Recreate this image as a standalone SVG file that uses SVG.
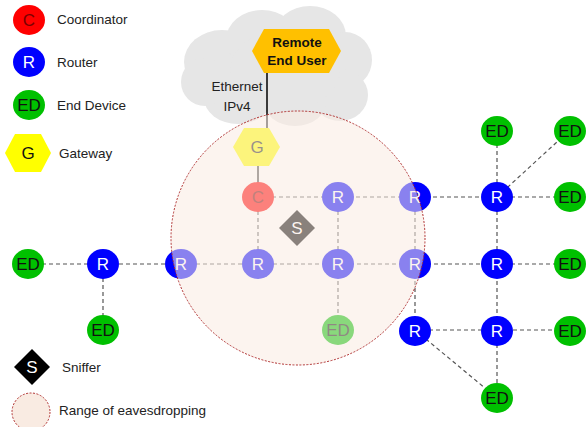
<svg xmlns="http://www.w3.org/2000/svg" width="587" height="427" viewBox="0 0 587 427">
<style>
text{font-family:"Liberation Sans",Arial,sans-serif}
.lbl{font-size:13.5px;fill:#222}
.nt{font-size:17px;text-anchor:middle;dominant-baseline:central}
.c{fill:#ff0000}.r{fill:#0000ff}.ed{fill:#00c000}
.ct{fill:#7a0000}.rt{fill:#ffffff}.edt{fill:#111111}
.dash{stroke:#555;stroke-width:1.2;stroke-dasharray:4 3;fill:none}
.range{fill:#f9ebe2;stroke:#b03030;stroke-width:1;stroke-dasharray:2 1.5}
</style>
<g id="cloud" fill="#e6e6e6">
<ellipse cx="222" cy="62" rx="38" ry="32"/>
<ellipse cx="262" cy="40" rx="36" ry="30"/>
<ellipse cx="310" cy="36" rx="36" ry="30"/>
<ellipse cx="345" cy="60" rx="27" ry="28"/>
<ellipse cx="340" cy="95" rx="28" ry="26"/>
<ellipse cx="295" cy="100" rx="32" ry="26"/>
<ellipse cx="238" cy="98" rx="34" ry="26"/>
<ellipse cx="205" cy="82" rx="24" ry="24"/>
<ellipse cx="285" cy="70" rx="55" ry="40"/>
</g>
<g id="connectors">
<line x1="267" y1="73" x2="267" y2="130" stroke="#000" stroke-width="1.5"/>
<line x1="258" y1="166" x2="258" y2="184" stroke="#555" stroke-width="2"/>
<path class="dash" d="M258 197H497M258 197V264M338 197V330M415 197V330M497 197V398M28 264H570M103 264V330M415 330H570M415 330L497 398M497 130V197M497 197L570 130M497 197H570"/>
</g>
<g id="remote"><polygon points="252,51 264,29 329,29 341,51 329,73 264,73" fill="#ffc000"/>
<text x="297" y="47" text-anchor="middle" font-size="13.5" font-weight="bold" fill="#111">Remote</text>
<text x="297" y="65" text-anchor="middle" font-size="13.5" font-weight="bold" fill="#111">End User</text></g>
<text x="237" y="91" text-anchor="middle" class="lbl" fill="#333">Ethernet</text>
<text x="237" y="111" text-anchor="middle" class="lbl" fill="#333">IPv4</text>
<g id="G"><polygon points="233,147 244,128 269,128 280,147 269,166 244,166" fill="#ffff00"/><text class="nt" x="257" y="147" fill="#222">G</text></g>
<g id="C"><ellipse class="c" cx="258" cy="197" rx="16" ry="15"/><text class="nt ct" x="258" y="197">C</text></g>
<g id="R1"><ellipse class="r" cx="338" cy="197" rx="16" ry="15"/><text class="nt rt" x="338" y="197">R</text></g>
<g id="R2"><ellipse class="r" cx="415" cy="197" rx="16" ry="15"/><text class="nt rt" x="415" y="197">R</text></g>
<g id="R3"><ellipse class="r" cx="497" cy="197" rx="16" ry="15"/><text class="nt rt" x="497" y="197">R</text></g>
<g id="R4"><ellipse class="r" cx="103" cy="264" rx="16" ry="15"/><text class="nt rt" x="103" y="264">R</text></g>
<g id="R5"><ellipse class="r" cx="181" cy="264" rx="16" ry="15"/><text class="nt rt" x="181" y="264">R</text></g>
<g id="R6"><ellipse class="r" cx="258" cy="264" rx="16" ry="15"/><text class="nt rt" x="258" y="264">R</text></g>
<g id="R7"><ellipse class="r" cx="338" cy="264" rx="16" ry="15"/><text class="nt rt" x="338" y="264">R</text></g>
<g id="R8"><ellipse class="r" cx="415" cy="264" rx="16" ry="15"/><text class="nt rt" x="415" y="264">R</text></g>
<g id="R9"><ellipse class="r" cx="497" cy="264" rx="16" ry="15"/><text class="nt rt" x="497" y="264">R</text></g>
<g id="R10"><ellipse class="r" cx="415" cy="331" rx="16" ry="15"/><text class="nt rt" x="415" y="331">R</text></g>
<g id="R11"><ellipse class="r" cx="497" cy="331" rx="16" ry="15"/><text class="nt rt" x="497" y="331">R</text></g>
<g id="ED1"><ellipse class="ed" cx="497" cy="131" rx="16" ry="15"/><text class="nt edt" x="497" y="131">ED</text></g>
<g id="ED2"><ellipse class="ed" cx="570" cy="131" rx="16" ry="15"/><text class="nt edt" x="570" y="131">ED</text></g>
<g id="ED3"><ellipse class="ed" cx="570" cy="197" rx="16" ry="15"/><text class="nt edt" x="570" y="197">ED</text></g>
<g id="ED4"><ellipse class="ed" cx="570" cy="264" rx="16" ry="15"/><text class="nt edt" x="570" y="264">ED</text></g>
<g id="ED5"><ellipse class="ed" cx="570" cy="331" rx="16" ry="15"/><text class="nt edt" x="570" y="331">ED</text></g>
<g id="ED6"><ellipse class="ed" cx="497" cy="398" rx="16" ry="15"/><text class="nt edt" x="497" y="398">ED</text></g>
<g id="ED7"><ellipse class="ed" cx="28" cy="264" rx="16" ry="15"/><text class="nt edt" x="28" y="264">ED</text></g>
<g id="ED8"><ellipse class="ed" cx="103" cy="330" rx="16" ry="15"/><text class="nt edt" x="103" y="330">ED</text></g>
<g id="ED9"><ellipse class="ed" cx="338" cy="330" rx="16" ry="15"/><text class="nt edt" x="338" y="330">ED</text></g>
<g id="S"><polygon points="297,210 315,228 297,246 279,228" fill="#000"/><text class="nt rt" x="297" y="228">S</text></g>
<g id="range"><circle class="range" cx="298" cy="238" r="127" fill-opacity="0.55"/></g>
<g id="legend">
<ellipse class="c" cx="29" cy="20" rx="16" ry="15"/><text class="nt ct" x="29" y="20">C</text><text class="lbl" x="57" y="24">Coordinator</text>
<ellipse class="r" cx="29" cy="62" rx="16" ry="15"/><text class="nt rt" x="29" y="62">R</text><text class="lbl" x="57" y="67">Router</text>
<ellipse class="ed" cx="29" cy="105" rx="16" ry="15"/><text class="nt edt" x="29" y="105">ED</text><text class="lbl" x="57" y="110">End Device</text>
<polygon points="5,153 15,134 41,134 51,153 41,172 15,172" fill="#ffff00"/><text class="nt" x="28" y="153" fill="#111">G</text><text class="lbl" x="59" y="158">Gateway</text>
<polygon points="32,349 50,367 32,385 14,367" fill="#000"/><text class="nt rt" x="32" y="367">S</text><text class="lbl" x="62" y="372">Sniffer</text>
<circle class="range" cx="31" cy="412" r="19"/><text class="lbl" x="59" y="415">Range of eavesdropping</text>
</g>
</svg>
